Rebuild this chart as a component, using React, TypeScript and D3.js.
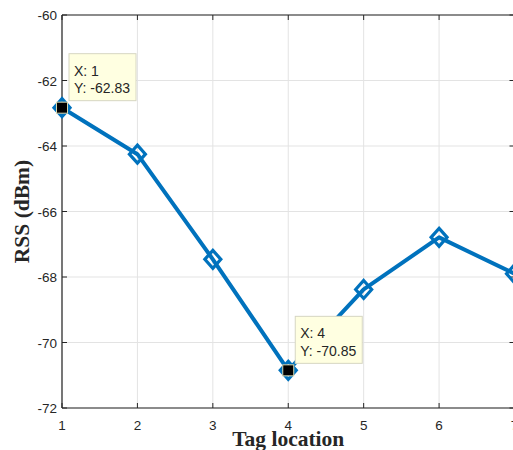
import React from "react";
import * as d3 from "d3";

const xValues = [1, 2, 3, 4, 5, 6, 7];
const rssValues = [-62.83, -64.25, -67.46, -70.85, -68.38, -66.79, -67.9];
const xTicks = [1, 2, 3, 4, 5, 6, 7];
const yTicks = [-72, -70, -68, -66, -64, -62, -60];
const dataTips = [
  { x: 1, y: -62.83 },
  { x: 4, y: -70.85 },
];

const W = 513;
const H = 450;
const left = 62;
const right = 514.5;
const top = 15;
const bottom = 408;

export default function App() {
  const x = d3.scaleLinear().domain([1, 7]).range([left, right]);
  const y = d3.scaleLinear().domain([-72, -60]).range([bottom, top]);
  const line = d3
    .line<number>()
    .x((_, i) => x(xValues[i]))
    .y((d) => y(d));
  const axisColor = "#262626";
  const gridColor = "#e3e3e3";
  const blue = "#0072BD";
  const diamond = (cx: number, cy: number) =>
    `M${cx},${cy - 9} L${cx + 8},${cy} L${cx},${cy + 9} L${cx - 8},${cy} Z`;

  return (
    <svg
      width={W}
      height={H}
      style={{ position: "absolute", left: 0, top: 0, background: "#fff" }}
      fontFamily="'Liberation Sans', Arial, sans-serif"
    >
      <rect x={0} y={0} width={W} height={H} fill="#fff" />
      {/* grid */}
      {xTicks.map((t) => (
        <line key={"gx" + t} x1={x(t)} x2={x(t)} y1={top} y2={bottom} stroke={gridColor} strokeWidth={1} />
      ))}
      {yTicks.map((t) => (
        <line key={"gy" + t} x1={left} x2={right} y1={y(t)} y2={y(t)} stroke={gridColor} strokeWidth={1} />
      ))}
      {/* axes box */}
      <line x1={left} x2={right} y1={bottom} y2={bottom} stroke={axisColor} strokeWidth={1.2} />
      <line x1={left} x2={right} y1={top} y2={top} stroke={axisColor} strokeWidth={1.2} />
      <line x1={left} x2={left} y1={top} y2={bottom} stroke={axisColor} strokeWidth={1.2} />
      <line x1={right} x2={right} y1={top} y2={bottom} stroke={axisColor} strokeWidth={1.2} />
      {/* ticks */}
      {xTicks.map((t) => (
        <g key={"tx" + t}>
          <line x1={x(t)} x2={x(t)} y1={bottom} y2={bottom - 5} stroke={axisColor} />
          <line x1={x(t)} x2={x(t)} y1={top} y2={top + 5} stroke={axisColor} />
          <text x={x(t)} y={bottom + 22} textAnchor="middle" fontSize={13.5} fill={axisColor}>
            {t}
          </text>
        </g>
      ))}
      {yTicks.map((t) => (
        <g key={"ty" + t}>
          <line x1={left} x2={left + 5} y1={y(t)} y2={y(t)} stroke={axisColor} />
          <line x1={right - 5} x2={right} y1={y(t)} y2={y(t)} stroke={axisColor} />
          <text x={left - 5} y={y(t) + 5} textAnchor="end" fontSize={13.5} fill={axisColor}>
            {t}
          </text>
        </g>
      ))}
      {/* data line */}
      <path d={line(rssValues) || ""} fill="none" stroke={blue} strokeWidth={4} strokeLinejoin="round" />
      {rssValues.map((v, i) => (
        <path key={"m" + i} d={diamond(x(xValues[i]), y(v))} fill="none" stroke={blue} strokeWidth={3.2} strokeLinejoin="miter" />
      ))}
      {/* data tips */}
      {dataTips.map((d, i) => {
        const px = x(d.x);
        const py = y(d.y);
        const bx = px + 7;
        const by = py - 54;
        return (
          <g key={"dt" + i}>
            <rect x={px - 5.5} y={py - 5.5} width={11} height={11} fill="#000" stroke="#d8d8b0" strokeWidth={1} />
            <rect x={bx} y={by} width={67} height={47} fill="#ffffe1" stroke="#d6d6c2" strokeWidth={1} />
            <text x={bx + 5} y={by + 22} fontSize={14} fill="#262626">
              {`X: ${d.x}`}
            </text>
            <text x={bx + 5} y={by + 39.5} fontSize={14} fill="#262626">
              {`Y: ${d.y.toFixed(2)}`}
            </text>
          </g>
        );
      })}
      {/* axis labels */}
      <text
        x={(left + right) / 2}
        y={446}
        textAnchor="middle"
        fontFamily="'Liberation Serif', 'Times New Roman', serif"
        fontWeight="bold"
        fontSize={21.5}
        fill="#262626"
      >
        Tag location
      </text>
      <text
        transform={`translate(29,${(top + bottom) / 2}) rotate(-90)`}
        textAnchor="middle"
        fontFamily="'Liberation Serif', 'Times New Roman', serif"
        fontWeight="bold"
        fontSize={21.5}
        fill="#262626"
      >
        RSS (dBm)
      </text>
    </svg>
  );
}
